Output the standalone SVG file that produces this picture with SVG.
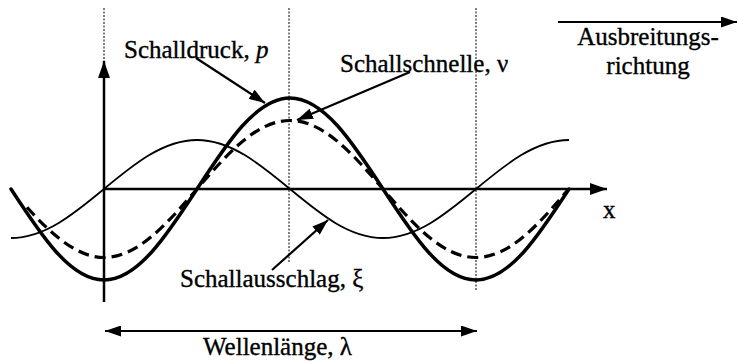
<svg xmlns="http://www.w3.org/2000/svg" width="738" height="364" viewBox="0 0 738 364">
<style>
text{font-family:"Liberation Serif","Times New Roman",serif;font-size:25px;fill:#000;stroke:#000;stroke-width:0.35}
.ax{stroke:#000;stroke-width:2.5;fill:none}
.dot{stroke:#000;stroke-width:1;stroke-dasharray:2,1.5;fill:none}
.thick{stroke:#000;stroke-width:3.5;fill:none;stroke-linecap:round}
.dash{stroke:#000;stroke-width:3.2;fill:none;stroke-dasharray:11,6}
.thin{stroke:#000;stroke-width:1.8;fill:none}
.lead{stroke:#000;stroke-width:2.2;fill:none}
</style>
<defs>
<marker id="axh" markerUnits="userSpaceOnUse" markerWidth="18" markerHeight="12" refX="17" refY="6" orient="auto"><path d="M0,0 L17,6 L0,12 z" fill="#000"/></marker>
<marker id="ah" markerUnits="userSpaceOnUse" markerWidth="16" markerHeight="11" refX="16" refY="5.5" orient="auto-start-reverse"><path d="M0,0 L16,5.5 L0,11 z" fill="#000"/></marker>
</defs>
<g id="guides">
<line class="dot" x1="104" y1="8" x2="104" y2="62"/>
<line class="dot" x1="289" y1="8" x2="289" y2="262"/>
<line class="dot" x1="476" y1="8" x2="476" y2="290"/>
</g>
<g id="axes">
<line class="ax" x1="104" y1="302" x2="104" y2="61" marker-end="url(#axh)"/>
<line class="ax" x1="104" y1="189" x2="607" y2="189" marker-end="url(#axh)"/>
<text x="603" y="218">x</text>
</g>
<g id="schalldruck-curve">
<path class="thick" d="M11,189 C41.33,235.6 70.34,280 104,280 C137.66,280 166.67,235.6 197,189 C227.33,142.4 256.34,98 290,98 C323.66,98 352.67,142.4 383,189 C413.33,235.6 442.34,280 476,280 C509.66,280 538.67,235.6 569,189"/>
</g>
<g id="schallschnelle-curve">
<path class="dash" d="M27,207.3 C52.7,236 78.3,257.5 104,257.5 C137.66,257.5 166.67,224.1 197,189 C227.33,153.9 256.34,120.5 290,120.5 C323.66,120.5 352.67,153.9 383,189 C413.33,224.1 442.34,257.5 476,257.5 C509.66,257.5 538.67,224.1 567,191"/>
</g>
<g id="schallausschlag-curve">
<path class="thin" d="M11,238 C44.66,238 73.67,214.1 104,189 C134.33,163.9 163.34,140 197,140 C230.66,140 259.67,163.9 290,189 C320.33,214.1 349.34,238 383,238 C416.66,238 445.67,214.1 476,189 C506.33,163.9 535.34,140 569,140"/>
</g>
<g id="label-schalldruck"><text x="124" y="58">Schalldruck, <tspan font-style="italic">p</tspan></text></g>
<g id="label-schallschnelle"><text x="340" y="72">Schallschnelle, ν</text></g>
<g id="label-schallausschlag"><text x="180" y="287">Schallausschlag, ξ</text></g>
<g id="label-ausbreitung"><text x="648" y="45" text-anchor="middle">Ausbreitungs-</text><text x="648" y="74" text-anchor="middle">richtung</text></g>
<g id="label-wellenlaenge"><text x="203" y="355">Wellenlänge, λ</text></g>
<g id="connectors">
<line class="lead" x1="196" y1="58" x2="265" y2="103" marker-end="url(#ah)"/>
<line class="lead" x1="410" y1="72" x2="297" y2="120" marker-end="url(#ah)"/>
<line class="lead" x1="272" y1="270" x2="328" y2="220" marker-end="url(#ah)"/>
<line class="lead" x1="558" y1="22" x2="737" y2="22" marker-end="url(#ah)"/>
<line class="lead" x1="105" y1="331" x2="477" y2="331" marker-start="url(#ah)" marker-end="url(#ah)"/>
</g>
</svg>
